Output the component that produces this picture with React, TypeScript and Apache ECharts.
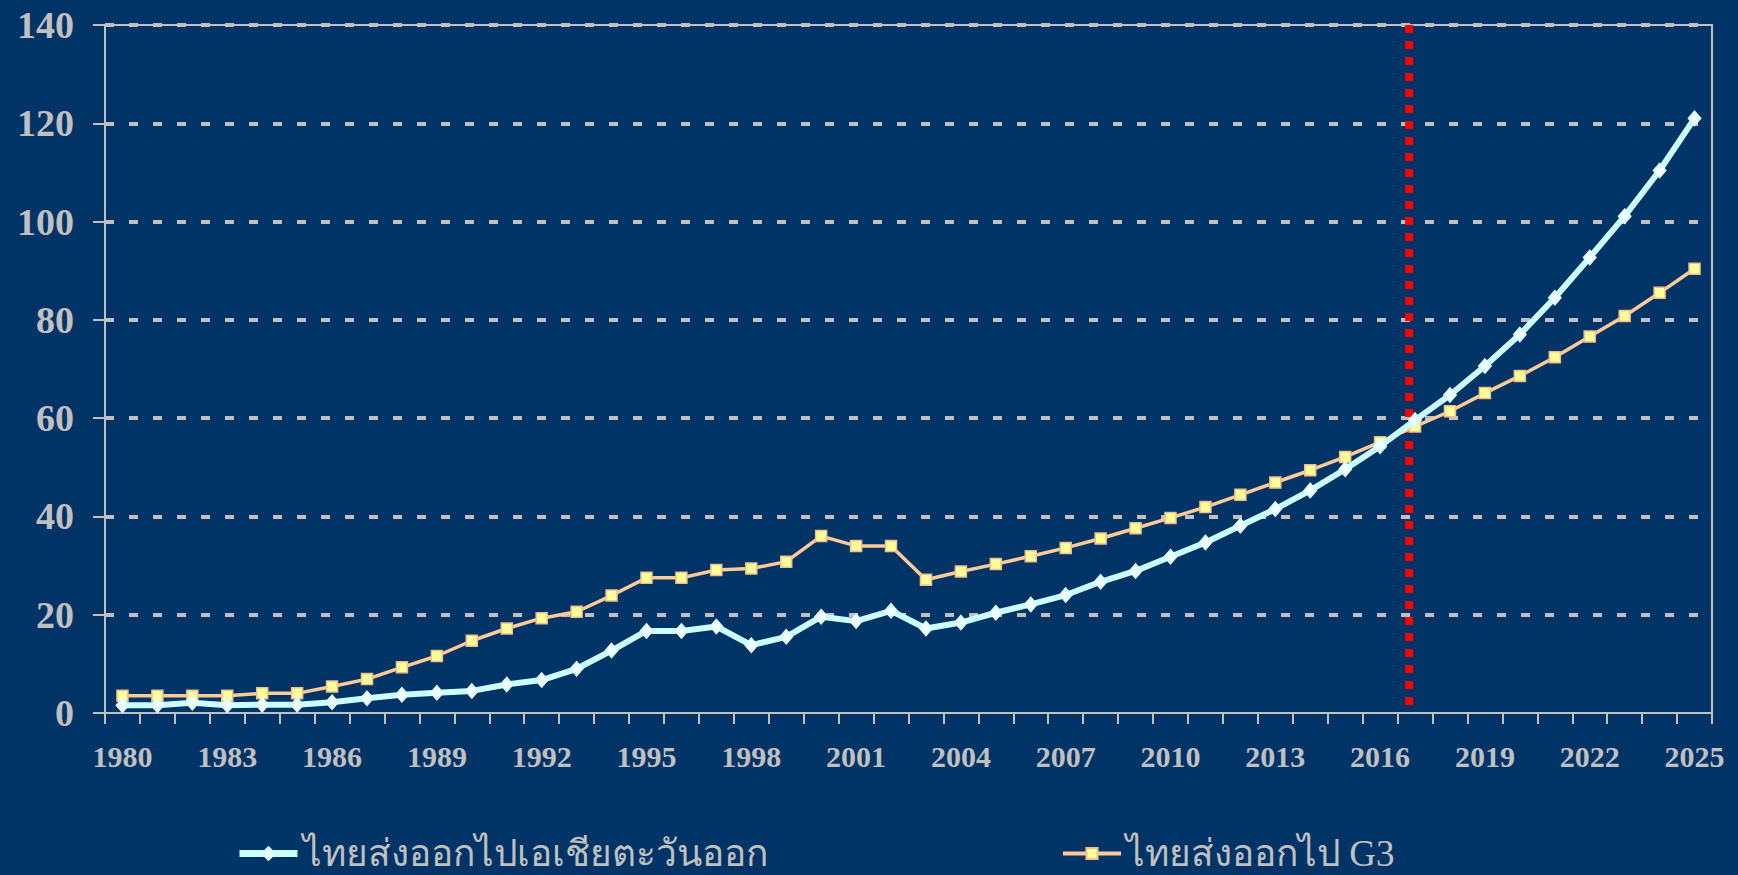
import React, { useEffect, useRef } from "react";
import * as echarts from "echarts";

const years: string[] = [];
for (let y = 1980; y <= 2025; y++) years.push(String(y));

const eastAsia = [
  1.6, 1.6, 2.1, 1.6, 1.7, 1.7, 2.2, 3.0, 3.7, 4.1, 4.5, 5.8, 6.7, 9.0, 12.7,
  16.7, 16.7, 17.6, 13.8, 15.5, 19.6, 18.7, 20.8, 17.2, 18.4, 20.4, 22.1, 24.0,
  26.7, 28.9, 31.8, 34.7, 38.1, 41.5, 45.3, 49.6, 54.3, 59.6, 64.7, 70.6, 77.0,
  84.5, 92.7, 101.1, 110.4, 121.0,
];

const g3 = [
  3.5, 3.5, 3.5, 3.5, 4.0, 4.0, 5.4, 6.9, 9.3, 11.6, 14.7, 17.2, 19.3, 20.6,
  23.9, 27.5, 27.5, 29.1, 29.4, 30.8, 36.0, 34.0, 34.0, 27.1, 28.8, 30.3, 31.9,
  33.6, 35.5, 37.6, 39.7, 41.9, 44.4, 46.9, 49.4, 52.1, 55.1, 58.3, 61.4, 65.1,
  68.6, 72.4, 76.6, 80.8, 85.5, 90.4,
];

const seriesNames = ["ไทยส่งออกไปเอเชียตะวันออก", "ไทยส่งออกไป G3"];
const dividerYear = 2016.83;
const yTicks = { min: 0, max: 140, interval: 20 };

export default function App() {
  const ref = useRef<HTMLDivElement>(null);
  useEffect(() => {
    document.body.style.margin = "0";
    document.body.style.background = "#003366";
    const chart = echarts.init(ref.current!, null, { renderer: "svg" });
    const gray = "#C0C0C0";
    const serif = "'Liberation Serif', 'Times New Roman', serif";
    chart.setOption({
      animation: false,
      backgroundColor: "#003366",
      grid: {
        left: 105,
        right: 26,
        top: 25,
        bottom: 162,
        show: true,
        borderColor: gray,
        borderWidth: 2,
      },
      legend: [
        {
          data: [seriesNames[0]],
          left: 231,
          top: 830,
          itemWidth: 58,
          itemHeight: 16,
          itemGap: 10,
          lineStyle: { width: 7 },
          textStyle: { color: gray, fontSize: 37, fontFamily: serif },
        },
        {
          data: [seriesNames[1]],
          left: 1056,
          top: 830,
          itemWidth: 58,
          itemHeight: 14,
          itemGap: 10,
          lineStyle: { width: 4 },
          textStyle: { color: gray, fontSize: 37, fontFamily: serif },
        },
      ],
      xAxis: [
        {
          type: "category",
          data: years,
          boundaryGap: true,
          axisLine: { lineStyle: { color: gray, width: 2 } },
          axisTick: { show: true, interval: 0, length: 11, lineStyle: { color: gray, width: 2 } },
          axisLabel: {
            interval: 2,
            color: gray,
            fontFamily: serif,
            fontWeight: "bold",
            fontSize: 30,
            margin: 28,
          },
          splitLine: { show: false },
        },
        {
          type: "value",
          min: 1979.5,
          max: 2025.5,
          show: false,
          splitLine: { show: false },
        },
      ],
      yAxis: {
        type: "value",
        min: yTicks.min,
        max: yTicks.max,
        interval: yTicks.interval,
        axisLine: { show: true, lineStyle: { color: gray, width: 2 } },
        axisTick: { show: true, length: 12, lineStyle: { color: gray, width: 2 } },
        axisLabel: {
          color: gray,
          fontFamily: serif,
          fontWeight: "bold",
          fontSize: 38,
          margin: 31,
        },
        splitLine: {
          show: true,
          showMinLine: false,
          lineStyle: { color: gray, width: 4, type: [9, 15] },
        },
      },
      series: [
        {
          name: "divider",
          type: "line",
          xAxisIndex: 1,
          data: [
            [dividerYear, yTicks.max],
            [dividerYear, yTicks.min],
          ],
          showSymbol: false,
          symbol: "none",
          lineStyle: { color: "#FF0000", width: 8, type: [8, 8] },
          z: 1,
          silent: true,
        },
        {
          name: seriesNames[1],
          type: "line",
          data: g3,
          symbol: "rect",
          symbolSize: 11,
          lineStyle: { color: "#FFCC99", width: 3.5 },
          itemStyle: { color: "#FFFF99", borderColor: "#F2BE8C", borderWidth: 1.5 },
          z: 3,
        },
        {
          name: seriesNames[0],
          type: "line",
          data: eastAsia,
          symbol: "diamond",
          symbolSize: [13, 15],
          lineStyle: { color: "#CCFFFF", width: 6 },
          itemStyle: { color: "#F0FFFF", borderColor: "#CCFFFF", borderWidth: 1 },
          z: 4,
        },
      ],
    });
    return () => chart.dispose();
  }, []);
  return <div ref={ref} style={{ width: 1738, height: 875 }} />;
}
